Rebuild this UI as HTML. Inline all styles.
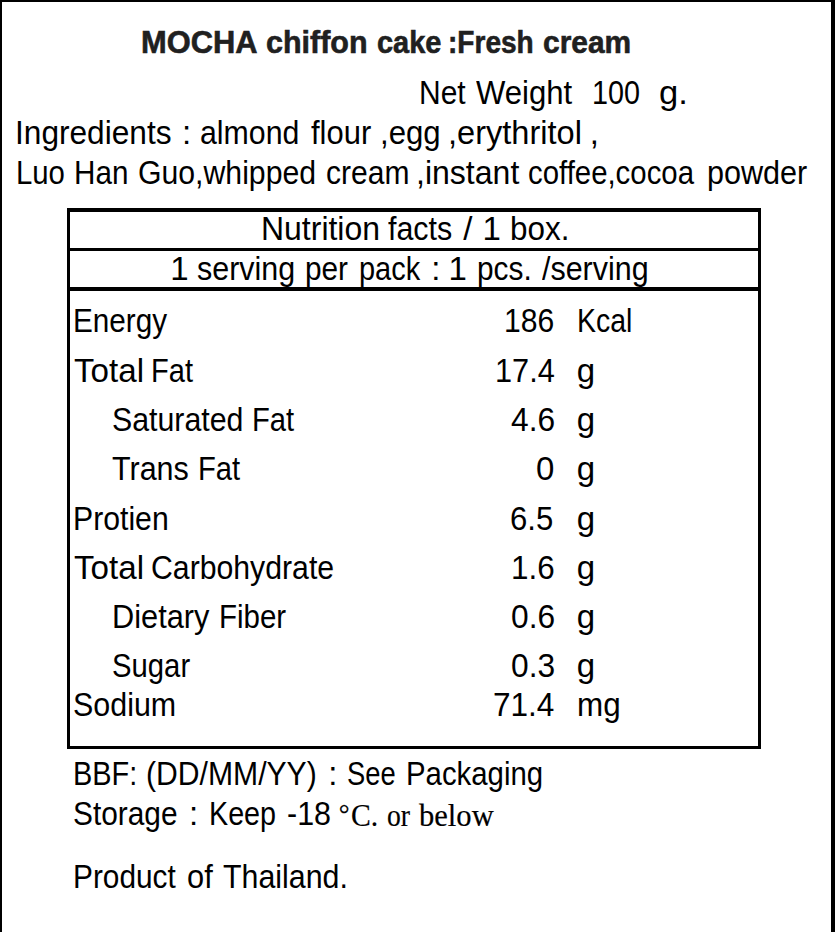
<!DOCTYPE html>
<html><head><meta charset="utf-8"><style>
html,body{margin:0;padding:0;}
body{width:840px;height:932px;position:relative;overflow:hidden;background:#fff;}
.t{position:absolute;white-space:pre;font-size:33px;line-height:33px;transform-origin:0 0;}
.s{font-family:"Liberation Sans", sans-serif;}
.r{font-family:"Liberation Serif", serif;}
.b{position:absolute;background:#000;}
</style></head><body>
<div class="b" style="left:0;top:0;width:2px;height:932px"></div>
<div class="b" style="left:0;top:0;width:835px;height:2px"></div>
<div class="b" style="left:831px;top:0;width:4px;height:932px"></div>
<div class="b" style="left:67px;top:208px;width:694px;height:4px"></div>
<div class="b" style="left:67px;top:208px;width:3px;height:541px"></div>
<div class="b" style="left:758px;top:208px;width:3px;height:541px"></div>
<div class="b" style="left:67px;top:746px;width:694px;height:3px"></div>
<div class="b" style="left:67px;top:248px;width:694px;height:3px"></div>
<div class="b" style="left:67px;top:287px;width:694px;height:4px"></div>
<div class="t s" style="left:141.07px;top:26.00px;transform:scaleX(0.9636); font-weight:bold;-webkit-text-stroke:0.6px #202020;font-size:32px;line-height:32px;color:#202020">MOCHA</div>
<div class="t s" style="left:266.05px;top:26.00px;transform:scaleX(0.9519); font-weight:bold;-webkit-text-stroke:0.6px #202020;font-size:32px;line-height:32px;color:#202020">chiffon</div>
<div class="t s" style="left:376.70px;top:26.00px;transform:scaleX(0.9043); font-weight:bold;-webkit-text-stroke:0.6px #202020;font-size:32px;line-height:32px;color:#202020">cake</div>
<div class="t s" style="left:448.37px;top:26.00px;transform:scaleX(0.8763); font-weight:bold;-webkit-text-stroke:0.6px #202020;font-size:32px;line-height:32px;color:#202020">:Fresh</div>
<div class="t s" style="left:543.07px;top:26.00px;transform:scaleX(0.9348); font-weight:bold;-webkit-text-stroke:0.6px #202020;font-size:32px;line-height:32px;color:#202020">cream</div>
<div class="t s" style="left:419.27px;top:76.00px;transform:scaleX(0.9083);color:#000">Net</div>
<div class="t s" style="left:475.70px;top:76.00px;transform:scaleX(0.9422);color:#000">Weight</div>
<div class="t s" style="left:591.88px;top:76.00px;transform:scaleX(0.8725);color:#000">100</div>
<div class="t s" style="left:659.45px;top:76.00px;transform:scaleX(1.0478);color:#000">g.</div>
<div class="t s" style="left:15.12px;top:116.00px;transform:scaleX(0.9585);color:#000">Ingredients</div>
<div class="t s" style="left:181.95px;top:116.00px;transform:scaleX(1.0000);color:#000">:</div>
<div class="t s" style="left:200.48px;top:116.00px;transform:scaleX(0.9181);color:#000">almond</div>
<div class="t s" style="left:310.70px;top:116.00px;transform:scaleX(0.9375);color:#000">flour</div>
<div class="t s" style="left:379.67px;top:116.00px;transform:scaleX(0.9441);color:#000">,egg</div>
<div class="t s" style="left:448.04px;top:116.00px;transform:scaleX(0.9869);color:#000">,erythritol</div>
<div class="t s" style="left:589.75px;top:116.00px;transform:scaleX(1.0000);color:#000">,</div>
<div class="t s" style="left:16.34px;top:156.00px;transform:scaleX(0.8882);color:#000">Luo</div>
<div class="t s" style="left:74.01px;top:156.00px;transform:scaleX(0.8982);color:#000">Han</div>
<div class="t s" style="left:137.97px;top:156.00px;transform:scaleX(0.9158);color:#000">Guo,whipped</div>
<div class="t s" style="left:326.09px;top:156.00px;transform:scaleX(0.9101);color:#000">cream</div>
<div class="t s" style="left:415.89px;top:156.00px;transform:scaleX(0.9709);color:#000">,instant</div>
<div class="t s" style="left:528.11px;top:156.00px;transform:scaleX(0.8898);color:#000">coffee,cocoa</div>
<div class="t s" style="left:706.95px;top:156.00px;transform:scaleX(0.9264);color:#000">powder</div>
<div class="t s" style="left:260.69px;top:211.50px;transform:scaleX(0.9686);color:#000">Nutrition</div>
<div class="t s" style="left:388.30px;top:211.50px;transform:scaleX(0.9217);color:#000">facts</div>
<div class="t s" style="left:463.15px;top:211.50px;transform:scaleX(1.0000);color:#000">/</div>
<div class="t s" style="left:482.40px;top:211.50px;transform:scaleX(1.0000);color:#000">1</div>
<div class="t s" style="left:509.99px;top:211.50px;transform:scaleX(0.9526);color:#000">box.</div>
<div class="t s" style="left:170.20px;top:251.60px;transform:scaleX(1.0000);color:#000">1</div>
<div class="t s" style="left:197.48px;top:251.60px;transform:scaleX(0.9233);color:#000">serving</div>
<div class="t s" style="left:304.90px;top:251.60px;transform:scaleX(0.9022);color:#000">per</div>
<div class="t s" style="left:358.64px;top:251.60px;transform:scaleX(0.8779);color:#000">pack</div>
<div class="t s" style="left:431.30px;top:251.60px;transform:scaleX(1.0000);color:#000">:</div>
<div class="t s" style="left:448.55px;top:251.60px;transform:scaleX(1.0000);color:#000">1</div>
<div class="t s" style="left:476.99px;top:251.60px;transform:scaleX(0.9036);color:#000">pcs.</div>
<div class="t s" style="left:541.70px;top:251.60px;transform:scaleX(0.9228);color:#000">/serving</div>
<div class="t s" style="left:73.00px;top:304.00px;transform:scaleX(0.9000);color:#000">Energy</div>
<div class="t s" style="left:503.66px;top:304.00px;transform:scaleX(0.9118);color:#000">186</div>
<div class="t s" style="left:576.71px;top:304.00px;transform:scaleX(0.8627);color:#000">Kcal</div>
<div class="t s" style="left:73.50px;top:354.00px;transform:scaleX(1.0045);color:#000">Total</div>
<div class="t s" style="left:151.36px;top:354.00px;transform:scaleX(0.8800);color:#000">Fat</div>
<div class="t s" style="left:495.21px;top:354.00px;transform:scaleX(0.9300);color:#000">17.4</div>
<div class="t s" style="left:576.75px;top:354.00px;transform:scaleX(1.0000);color:#000">g</div>
<div class="t s" style="left:111.66px;top:403.00px;transform:scaleX(0.9187);color:#000">Saturated</div>
<div class="t s" style="left:252.15px;top:403.00px;transform:scaleX(0.8844);color:#000">Fat</div>
<div class="t s" style="left:511.04px;top:403.00px;transform:scaleX(0.9605);color:#000">4.6</div>
<div class="t s" style="left:576.75px;top:403.00px;transform:scaleX(1.0000);color:#000">g</div>
<div class="t s" style="left:112.08px;top:452.00px;transform:scaleX(0.9235);color:#000">Trans</div>
<div class="t s" style="left:197.55px;top:452.00px;transform:scaleX(0.8844);color:#000">Fat</div>
<div class="t s" style="left:536.05px;top:452.00px;transform:scaleX(1.0000);color:#000">0</div>
<div class="t s" style="left:576.75px;top:452.00px;transform:scaleX(1.0000);color:#000">g</div>
<div class="t s" style="left:73.25px;top:502.00px;transform:scaleX(0.9150);color:#000">Protien</div>
<div class="t s" style="left:509.82px;top:502.00px;transform:scaleX(0.9419);color:#000">6.5</div>
<div class="t s" style="left:576.75px;top:502.00px;transform:scaleX(1.0000);color:#000">g</div>
<div class="t s" style="left:73.50px;top:551.00px;transform:scaleX(1.0045);color:#000">Total</div>
<div class="t s" style="left:151.17px;top:551.00px;transform:scaleX(0.9158);color:#000">Carbohydrate</div>
<div class="t s" style="left:511.15px;top:551.00px;transform:scaleX(0.9512);color:#000">1.6</div>
<div class="t s" style="left:576.75px;top:551.00px;transform:scaleX(1.0000);color:#000">g</div>
<div class="t s" style="left:111.70px;top:600.00px;transform:scaleX(0.9317);color:#000">Dietary</div>
<div class="t s" style="left:218.72px;top:600.00px;transform:scaleX(0.8931);color:#000">Fiber</div>
<div class="t s" style="left:510.74px;top:600.00px;transform:scaleX(0.9605);color:#000">0.6</div>
<div class="t s" style="left:576.75px;top:600.00px;transform:scaleX(1.0000);color:#000">g</div>
<div class="t s" style="left:111.93px;top:649.00px;transform:scaleX(0.8872);color:#000">Sugar</div>
<div class="t s" style="left:510.74px;top:649.00px;transform:scaleX(0.9605);color:#000">0.3</div>
<div class="t s" style="left:576.75px;top:649.00px;transform:scaleX(1.0000);color:#000">g</div>
<div class="t s" style="left:73.16px;top:688.00px;transform:scaleX(0.9222);color:#000">Sodium</div>
<div class="t s" style="left:493.49px;top:688.00px;transform:scaleX(0.9557);color:#000">71.4</div>
<div class="t s" style="left:576.50px;top:688.00px;transform:scaleX(0.9524);color:#000">mg</div>
<div class="t s" style="left:73.47px;top:757.40px;transform:scaleX(0.8761);color:#000">BBF:</div>
<div class="t s" style="left:146.07px;top:757.40px;transform:scaleX(0.9131);color:#000">(DD/MM/YY)</div>
<div class="t s" style="left:328.20px;top:757.40px;transform:scaleX(1.0000);color:#000">:</div>
<div class="t s" style="left:346.74px;top:757.40px;transform:scaleX(0.8291);color:#000">See</div>
<div class="t s" style="left:405.53px;top:757.40px;transform:scaleX(0.8899);color:#000">Packaging</div>
<div class="t s" style="left:73.19px;top:797.00px;transform:scaleX(0.9045);color:#000">Storage</div>
<div class="t s" style="left:188.95px;top:797.00px;transform:scaleX(1.0000);color:#000">:</div>
<div class="t s" style="left:208.69px;top:797.00px;transform:scaleX(0.8699);color:#000">Keep</div>
<div class="t s" style="left:286.58px;top:797.00px;transform:scaleX(0.9222);color:#000">-18</div>
<div class="t r" style="left:338.70px;top:801.30px;transform:scaleX(1.0000); -webkit-text-stroke:0.2px #000;font-size:27px;line-height:27px;color:#000">°</div>
<div class="t r" style="left:351.34px;top:799.60px;transform:scaleX(0.9577); -webkit-text-stroke:0.2px #000;font-size:31px;line-height:31px;color:#000">C.</div>
<div class="t r" style="left:386.81px;top:799.60px;transform:scaleX(0.8920); -webkit-text-stroke:0.2px #000;font-size:31px;line-height:31px;color:#000">or</div>
<div class="t r" style="left:419.01px;top:799.60px;transform:scaleX(0.9867); -webkit-text-stroke:0.2px #000;font-size:31px;line-height:31px;color:#000">below</div>
<div class="t s" style="left:73.29px;top:859.50px;transform:scaleX(0.9036);color:#000">Product</div>
<div class="t s" style="left:187.27px;top:859.50px;transform:scaleX(0.9333);color:#000">of</div>
<div class="t s" style="left:222.68px;top:859.50px;transform:scaleX(0.9197);color:#000">Thailand.</div>
</body></html>
